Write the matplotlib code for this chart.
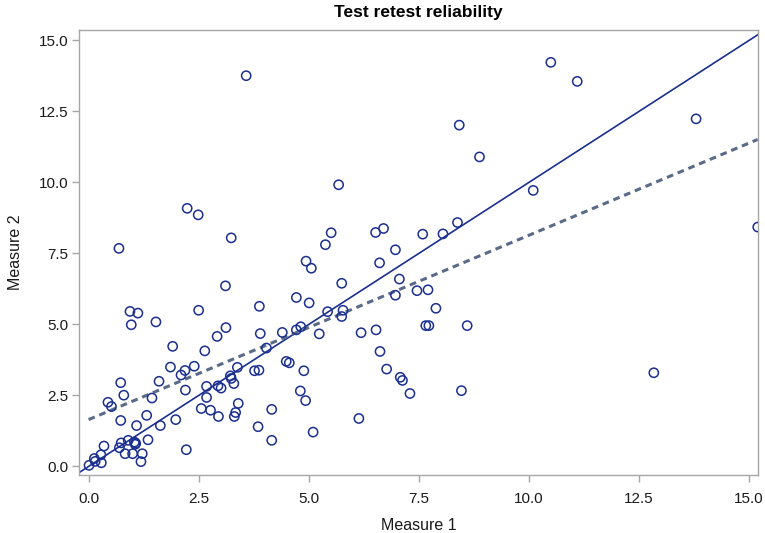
import matplotlib
matplotlib.use("Agg")
import matplotlib.pyplot as plt
import numpy as np

plt.rcParams['font.family'] = ['Liberation Sans', 'DejaVu Sans']

measure1 = [0.94, 1.12, 0.97, 1.53, 2.50, 3.88, 3.90, 3.12, 2.92, 1.91, 2.64, 4.04,
            1.86, 2.40, 2.19, 2.10, 1.60, 0.73, 2.20, 2.68, 2.94, 3.01, 3.22, 3.24,
            3.30, 3.38, 3.77, 3.87, 0.80, 0.44, 0.52, 1.44, 2.68, 2.56, 2.77, 2.95,
            3.40, 3.34, 3.31, 3.85, 1.32, 0.73, 1.98, 1.09, 1.63, 1.35, 2.22, 0.74,
            0.90, 1.04, 1.07, 1.06, 0.70, 0.83, 1.00, 1.22, 1.19, 0.35, 0.28, 0.13,
            0.15, 0.29, 0.01,
            5.01, 5.43, 5.78, 5.75, 4.40, 4.72, 4.82, 5.24, 6.19, 6.53, 6.62, 6.77,
            7.08, 7.13, 7.30, 7.66, 7.73, 4.49, 4.56, 4.89, 4.81, 4.93, 4.16, 4.16,
            5.10, 6.14,
            2.24, 2.49, 3.24, 0.69, 3.11,
            5.68, 5.51, 5.38, 4.94, 5.06, 5.75, 4.72, 6.52, 6.70, 6.97, 6.61, 7.59,
            8.05, 8.38, 7.06, 6.97, 7.46, 7.71, 7.89,
            10.10, 8.60, 8.47,
            10.50, 11.10, 8.42, 8.88, 13.80,
            3.58, 12.84, 15.20]
measure2 = [5.46, 5.40, 4.99, 5.09, 5.50, 5.64, 4.68, 4.89, 4.58, 4.23, 4.07, 4.17,
            3.50, 3.53, 3.38, 3.22, 3.00, 2.95, 2.69, 2.82, 2.84, 2.76, 3.19, 3.10,
            2.92, 3.49, 3.37, 3.39, 2.51, 2.26, 2.11, 2.41, 2.43, 2.04, 1.98, 1.76,
            2.22, 1.90, 1.76, 1.40, 1.80, 1.62, 1.65, 1.44, 1.44, 0.94, 0.59, 0.83,
            0.92, 0.86, 0.82, 0.78, 0.66, 0.45, 0.45, 0.45, 0.17, 0.72, 0.41, 0.28,
            0.18, 0.13, 0.04,
            5.76, 5.45, 5.50, 5.28, 4.72, 4.81, 4.92, 4.67, 4.71, 4.81, 4.05, 3.43,
            3.14, 3.03, 2.57, 4.96, 4.96, 3.70, 3.65, 3.37, 2.66, 2.32, 2.01, 0.92,
            1.21, 1.69,
            9.09, 8.86, 8.05, 7.68, 6.36,
            9.92, 8.23, 7.81, 7.23, 6.98, 6.45, 5.95, 8.24, 8.38, 7.63, 7.17, 8.18,
            8.19, 8.59, 6.60, 6.03, 6.19, 6.22, 5.57,
            9.72, 4.96, 2.67,
            14.23, 13.56, 12.02, 10.90, 12.24,
            13.76, 3.30, 8.43]

# regression fit (dashed)
fit_intercept = 1.65
fit_slope = 0.649

xticks = [0.0, 2.5, 5.0, 7.5, 10.0, 12.5, 15.0]
yticks = [0.0, 2.5, 5.0, 7.5, 10.0, 12.5, 15.0]
tick_labels = ["0.0", "2.5", "5.0", "7.5", "10.0", "12.5", "15.0"]

fig = plt.figure(figsize=(7.65, 5.33), dpi=100)
ax = fig.add_axes([0.1037, 0.1083, 0.9905 - 0.1037, 0.9443 - 0.1083])

xmin, xmax = -0.21, 15.20
ymin, ymax = -0.31, 15.38

navy = "#1a2f8f"
ax.plot([xmin, 16], [xmin, 16], color=navy, lw=1.2, zorder=2)
fx = np.array([0.0, max(measure1)])
ax.plot(fx, fit_intercept + fit_slope * fx, color="#5a6b8a", lw=2.2,
        linestyle=(0, (2.2, 1.6)), zorder=2)
ax.scatter(measure1, measure2, s=44, facecolors='none', edgecolors=navy,
           linewidths=1.1, zorder=3)

ax.set_xlim(xmin, xmax)
ax.set_ylim(ymin, ymax)
ax.set_xticks(xticks)
ax.set_xticklabels(tick_labels)
ax.set_yticks(yticks)
ax.set_yticklabels(tick_labels)

for s in ax.spines.values():
    s.set_color("#a6a6a6")
    s.set_linewidth(1.0)
ax.tick_params(axis='both', colors="#a6a6a6", labelcolor="#1a1a1a",
               labelsize=11, length=5, width=1.0)
ax.tick_params(axis='x', pad=7)
ax.tick_params(axis='y', pad=3)

ax.set_xlabel("Measure 1", fontsize=11.5, color="#1a1a1a", labelpad=9)
ax.set_ylabel("Measure 2", fontsize=11.5, color="#1a1a1a", labelpad=11)
ax.set_title("Test retest reliability", fontsize=12.5, fontweight='bold', pad=9)

fig.savefig("out.png", dpi=100)
